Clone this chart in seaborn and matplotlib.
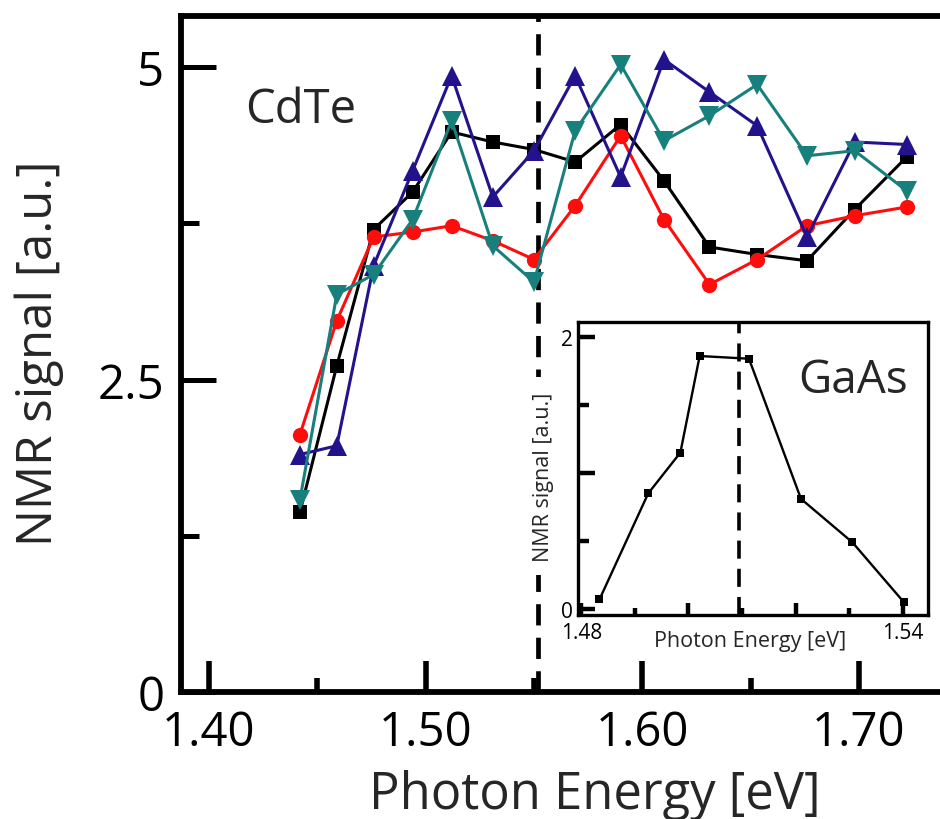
import numpy as np
import pandas as pd
import seaborn as sns
import matplotlib.pyplot as plt
from matplotlib.ticker import FixedLocator, FixedFormatter

# -----------------------------
# Data
# -----------------------------

# CdTe, photon energy [eV]
energy = [1.442, 1.459, 1.476, 1.494, 1.512, 1.531, 1.550, 1.569,
          1.590, 1.610, 1.631, 1.653, 1.676, 1.698, 1.722]

black_sq = [1.44, 2.61, 3.70, 4.00, 4.48, 4.40, 4.34, 4.24,
            4.54, 4.09, 3.56, 3.50, 3.45, 3.86, 4.28]
red_circ = [2.06, 2.97, 3.64, 3.68, 3.73, 3.61, 3.46, 3.89,
            4.45, 3.78, 3.26, 3.46, 3.73, 3.81, 3.88]
blue_up = [1.90, 1.97, 3.41, 4.17, 4.93, 3.96, 4.33, 4.93,
           4.12, 5.06, 4.80, 4.53, 3.64, 4.40, 4.38]
teal_down = [1.54, 3.18, 3.34, 3.78, 4.57, 3.57, 3.28, 4.49,
             5.02, 4.41, 4.61, 4.86, 4.29, 4.33, 4.01]

# GaAs inset
gaas_energy = [1.4834, 1.4925, 1.4985, 1.5021, 1.5113, 1.5210, 1.5306, 1.5402]
gaas_signal = [0.07, 0.85, 1.15, 1.86, 1.84, 0.81, 0.49, 0.05]

cdte_gap = 1.552
gaas_gap = 1.5095

main_xticks = [1.40, 1.50, 1.60, 1.70]
main_xlabels = ["1.40", "1.50", "1.60", "1.70"]
main_yticks = [0, 2.5, 5]
main_ylabels = ["0", "2.5", "5"]

# -----------------------------
# Style
# -----------------------------
sns.set_style("white")
plt.rcParams['font.family'] = ['Open Sans', 'DejaVu Sans']

fig = plt.figure(figsize=(9.4, 8.2), dpi=100)
ax = fig.add_axes([181 / 940, 127 / 820, 769 / 940, 676 / 820])

series = [
    (black_sq, "black", "s", 9.5),
    (red_circ, "#ff0d0d", "o", 11),
    (blue_up, "#22138c", "^", 14),
    (teal_down, "#17807c", "v", 14),
]
for vals, col, mk, ms in series:
    sns.lineplot(x=energy, y=vals, ax=ax, color=col, marker=mk, markersize=ms,
                 markeredgewidth=0, linewidth=2.2, sort=False)

ax.axvline(cdte_gap, color="black", linewidth=3.4, linestyle=(0, (4.5, 2.6)), zorder=1)

ax.set_xlim(1.3871, 1.742)
ax.set_ylim(0, 5.408)

for sp in ax.spines.values():
    sp.set_linewidth(4.2)
    sp.set_color("black")

ax.xaxis.set_major_locator(FixedLocator(main_xticks))
ax.xaxis.set_major_formatter(FixedFormatter(main_xlabels))
ax.xaxis.set_minor_locator(FixedLocator([1.45, 1.55, 1.65]))
ax.yaxis.set_major_locator(FixedLocator(main_yticks))
ax.yaxis.set_major_formatter(FixedFormatter(main_ylabels))
ax.yaxis.set_minor_locator(FixedLocator([1.25, 3.75]))

ax.tick_params(axis="both", which="both", direction="in", colors="black",
               bottom=True, left=True, top=False, right=False)
ax.tick_params(axis="x", which="major", length=22, width=4, labelsize=34, pad=12)
ax.tick_params(axis="x", which="minor", length=10, width=4)
ax.tick_params(axis="y", which="major", length=25, width=3.6, labelsize=34, pad=12)
ax.tick_params(axis="y", which="minor", length=13, width=3.6)

ax.set_xlabel("Photon Energy [eV]", fontsize=36.5)
ax.set_ylabel("NMR signal [a.u.]", fontsize=35.5)
ax.xaxis.set_label_coords(0.538, -0.114)
ax.yaxis.set_label_coords(-0.152, 0.503)

ax.text(0.083, 0.843, "CdTe", transform=ax.transAxes, fontsize=34,
        va="baseline", ha="left")

# -----------------------------
# Inset: GaAs
# -----------------------------
ins = fig.add_axes([578 / 940, 204 / 820, 350 / 940, 293 / 820])
ins.set_facecolor("white")
ins.set_zorder(5)

sns.lineplot(x=gaas_energy, y=gaas_signal, ax=ins, color="black", marker="s",
             markersize=6, markeredgewidth=0, linewidth=1.7, sort=False)
ins.axvline(gaas_gap, color="black", linewidth=2.6, linestyle=(0, (5, 2.8)), zorder=1)

ins.set_xlim(1.4794, 1.5447)
ins.set_ylim(-0.044, 2.11)

for sp in ins.spines.values():
    sp.set_linewidth(2.4)
    sp.set_color("black")

ins.xaxis.set_major_locator(FixedLocator([1.48, 1.50, 1.52, 1.54]))
ins.xaxis.set_major_formatter(FixedFormatter(["1.48", "", "", "1.54"]))
ins.xaxis.set_minor_locator(FixedLocator([1.49, 1.51, 1.53]))
ins.yaxis.set_major_locator(FixedLocator([0, 1, 2]))
ins.yaxis.set_major_formatter(FixedFormatter(["0", "", "2"]))
ins.yaxis.set_minor_locator(FixedLocator([0.5, 1.5]))

ins.tick_params(axis="both", which="both", direction="in", colors="black",
                bottom=True, left=True, top=False, right=False)
ins.tick_params(axis="x", which="major", length=9, width=3.2, labelsize=15, pad=5)
ins.tick_params(axis="x", which="minor", length=5, width=3.2)
ins.tick_params(axis="y", which="major", length=12, width=3.2, labelsize=15, pad=4)
ins.tick_params(axis="y", which="minor", length=8, width=3.2)

ins.set_xlabel("Photon Energy [eV]", fontsize=15.5)
ins.set_ylabel("NMR signal [a.u.]", fontsize=15.5)
ins.xaxis.set_label_coords(0.491, -0.05)
ins.yaxis.set_label_coords(-0.069, 0.474)
# white patch behind the inset label hides the main dashed line there
ins.yaxis.label.set_bbox(dict(facecolor="white", edgecolor="none", pad=10))

ins.text(0.629, 0.761, "GaAs", transform=ins.transAxes, fontsize=33,
         va="baseline", ha="left")

fig.savefig("out.png", dpi=100)
